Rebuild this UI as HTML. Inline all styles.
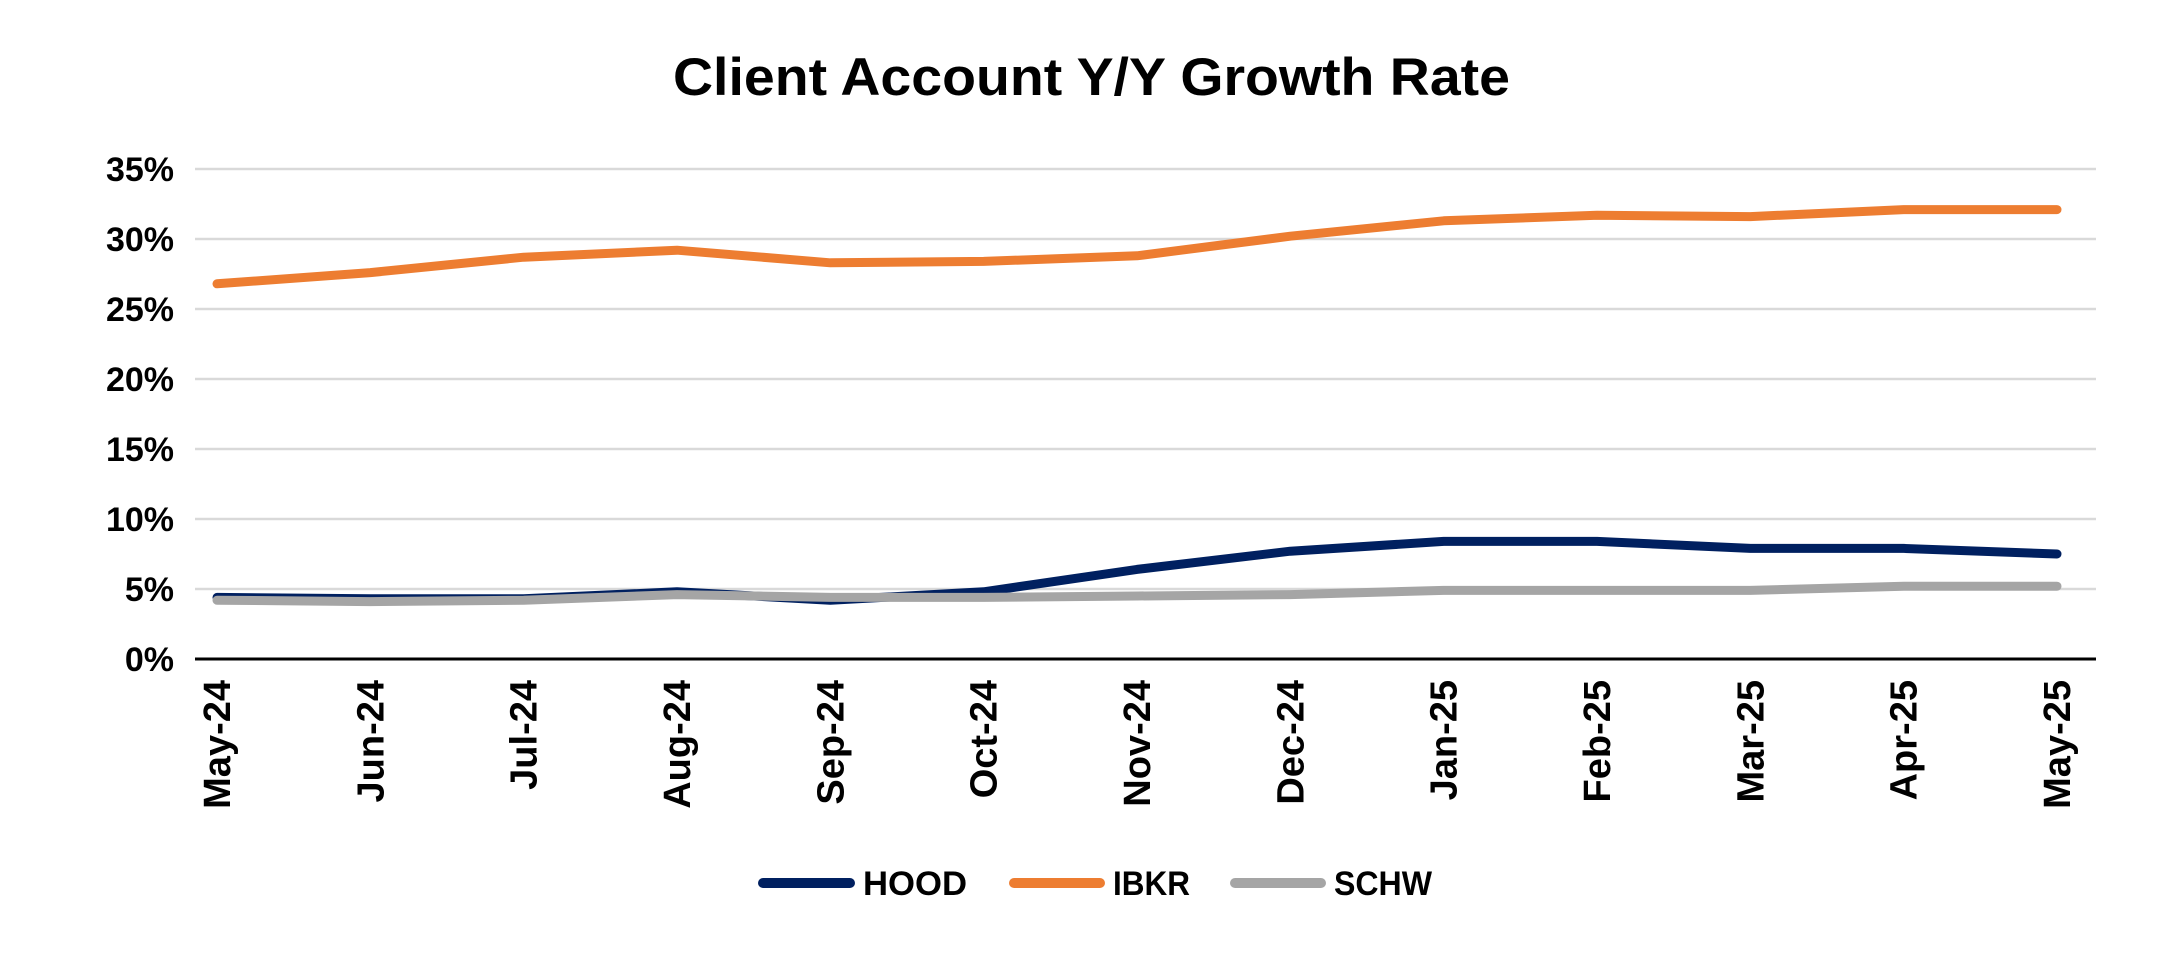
<!DOCTYPE html>
<html><head><meta charset="utf-8"><style>
html,body{margin:0;padding:0;background:#fff;}
svg text{font-family:"Liberation Sans",Arial,sans-serif;font-weight:bold;fill:#000;}
</style></head><body>
<svg id="chart" width="2183" height="950" viewBox="0 0 2183 950" xmlns="http://www.w3.org/2000/svg">
<text x="673" y="95" font-size="53" textLength="837" lengthAdjust="spacingAndGlyphs">Client Account Y/Y Growth Rate</text>
<g id="grid"></g>
<g id="yaxis"></g>
<g id="xaxis"></g>
<g id="series"></g>
<g>
<g><line x1="763" y1="883" x2="850" y2="883" stroke="#002060" stroke-width="10" stroke-linecap="round"/><text x="863" y="895" font-size="34" textLength="104" lengthAdjust="spacingAndGlyphs">HOOD</text></g>
<g><line x1="1014" y1="883" x2="1100" y2="883" stroke="#ED7D31" stroke-width="10" stroke-linecap="round"/><text x="1113" y="895" font-size="34" textLength="77" lengthAdjust="spacingAndGlyphs">IBKR</text></g>
<g><line x1="1235" y1="883" x2="1321" y2="883" stroke="#A5A5A5" stroke-width="10" stroke-linecap="round"/><text x="1334" y="895" font-size="34" textLength="98" lengthAdjust="spacingAndGlyphs">SCHW</text></g>
</g>
</svg>
<script>
const categories=["May-24","Jun-24","Jul-24","Aug-24","Sep-24","Oct-24","Nov-24","Dec-24","Jan-25","Feb-25","Mar-25","Apr-25","May-25"];
const hoodValues=[4.4,4.3,4.3,4.8,4.2,4.8,6.4,7.7,8.4,8.4,7.9,7.9,7.5];
const ibkrValues=[26.8,27.6,28.7,29.2,28.3,28.4,28.8,30.2,31.3,31.7,31.6,32.1,32.1];
const schwValues=[4.2,4.1,4.2,4.6,4.4,4.4,4.5,4.6,4.9,4.9,4.9,5.2,5.2];
const yTicks=[0,5,10,15,20,25,30,35];
const yTickLabels=["0%","5%","10%","15%","20%","25%","30%","35%"];

const NS="http://www.w3.org/2000/svg";
const plotL=195,plotR=2096,plotTop=169,plotBot=659,yMax=35;
const firstX=217,lastX=2057;
function yScale(v){return plotBot-(v/yMax)*(plotBot-plotTop);}
function xScale(i){return firstX+(lastX-firstX)*i/(categories.length-1);}
function mk(tag,attrs,parent){const e=document.createElementNS(NS,tag);for(const k in attrs)e.setAttribute(k,attrs[k]);parent.appendChild(e);return e;}

const grid=document.getElementById('grid');
const yaxis=document.getElementById('yaxis');
yTicks.forEach((t,i)=>{
  if(t>0){
    const g=mk('line',{x1:plotL,x2:plotR,y1:yScale(t),y2:yScale(t),stroke:'#d9d9d9','stroke-width':2.5},grid);
    
    
  }
  const tx=mk('text',{x:174,y:yScale(t)+12,'font-size':34,'text-anchor':'end'},yaxis);
  tx.textContent=yTickLabels[i];
  
  
});
const xaxis=document.getElementById('xaxis');
const ax=mk('line',{x1:plotL,x2:plotR,y1:plotBot,y2:plotBot,stroke:'#000','stroke-width':3},xaxis);


categories.forEach((c,i)=>{
  const x=xScale(i)+13;
  const tx=mk('text',{x:x,y:680,'font-size':38,'text-anchor':'end',transform:`rotate(-90 ${x} 680)`},xaxis);
  tx.textContent=c;
  
  
});
const series=document.getElementById('series');
function drawLine(vals,color,name){
  const d=vals.map((v,i)=>(i?'L':'M')+xScale(i).toFixed(1)+','+yScale(v).toFixed(1)).join(' ');
  const p=mk('path',{d:d,fill:'none',stroke:color,'stroke-width':9,'stroke-linecap':'round','stroke-linejoin':'round'},series);
  
  
}
drawLine(hoodValues,'#002060','hood-line');
drawLine(schwValues,'#A5A5A5','schw-line');
drawLine(ibkrValues,'#ED7D31','ibkr-line');
</script>
</body></html>
